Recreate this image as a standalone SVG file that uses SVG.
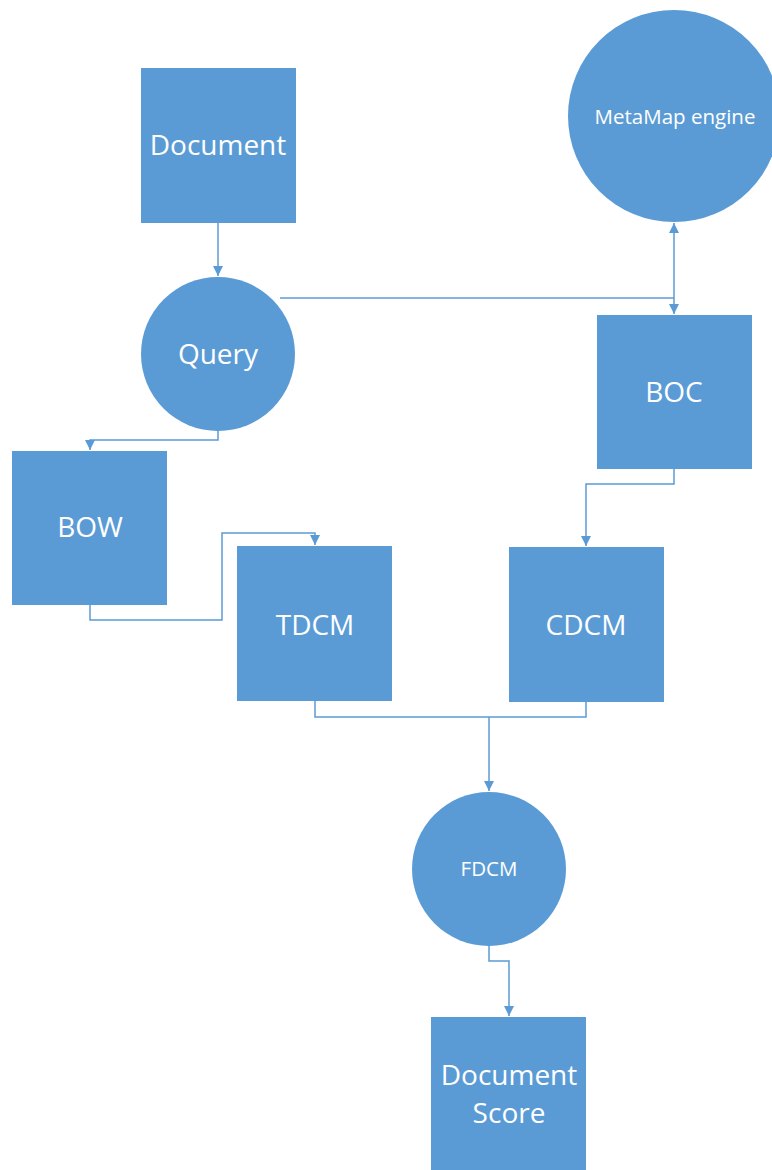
<svg xmlns="http://www.w3.org/2000/svg" width="772" height="1170" viewBox="0 0 772 1170">
  <style>
    .shape { fill: #5B9BD5; }
    .lbl { fill: #ffffff; font-family: "Open Sans", "Liberation Sans", sans-serif; text-anchor: middle; dominant-baseline: central; }
    .big { font-size: 28px; }
    .small { font-size: 20.5px; }
    .wire { fill: none; stroke: #5B9BD5; stroke-width: 1.5; }
  </style>
  <defs>
    <marker id="arrow" viewBox="0 0 10 10" refX="10" refY="5" markerWidth="11" markerHeight="10" markerUnits="userSpaceOnUse" orient="auto-start-reverse">
      <path d="M0,0 L10,5 L0,10 z" fill="#5B9BD5"/>
    </marker>
  </defs>
  <rect width="772" height="1170" fill="#ffffff"/>

  <g id="connectors">
    <!-- Document -> Query -->
    <path class="wire" d="M218,223 L218,276" marker-end="url(#arrow)"/>
    <!-- Query -> BOC, with MetaMap link -->
    <path class="wire" d="M280,298 L674,298"/>
    <path class="wire" d="M674,223 L674,314" marker-start="url(#arrow)" marker-end="url(#arrow)"/>
    <!-- Query -> BOW -->
    <path class="wire" d="M218,431 L218,440 L90,440 L90,450" marker-end="url(#arrow)"/>
    <!-- BOW -> TDCM -->
    <path class="wire" d="M90,605 L90,620 L222,620 L222,533 L315,533 L315,545" marker-end="url(#arrow)"/>
    <!-- BOC -> CDCM -->
    <path class="wire" d="M674,469 L674,484 L586,484 L586,546" marker-end="url(#arrow)"/>
    <!-- TDCM + CDCM -> FDCM -->
    <path class="wire" d="M315,701 L315,717 L586,717 L586,702"/>
    <path class="wire" d="M489,717 L489,791" marker-end="url(#arrow)"/>
    <!-- FDCM -> Document Score -->
    <path class="wire" d="M489,946 L489,961 L509,961 L509,1016" marker-end="url(#arrow)"/>
  </g>

  <g id="document">
    <rect class="shape" x="141" y="68" width="155" height="155"/>
    <text class="lbl big" x="218" y="144">Document</text>
  </g>
  <g id="metamap">
    <circle class="shape" cx="674" cy="116" r="106"/>
    <text class="lbl small" x="675" y="116">MetaMap engine</text>
  </g>
  <g id="query">
    <circle class="shape" cx="218" cy="354" r="77"/>
    <text class="lbl big" x="218" y="353">Query</text>
  </g>
  <g id="boc">
    <rect class="shape" x="597" y="315" width="155" height="154"/>
    <text class="lbl big" x="674" y="391">BOC</text>
  </g>
  <g id="bow">
    <rect class="shape" x="12" y="451" width="155" height="154"/>
    <text class="lbl big" x="90" y="526">BOW</text>
  </g>
  <g id="tdcm">
    <rect class="shape" x="237" y="546" width="155" height="155"/>
    <text class="lbl big" x="315" y="624">TDCM</text>
  </g>
  <g id="cdcm">
    <rect class="shape" x="509" y="547" width="155" height="155"/>
    <text class="lbl big" x="586" y="624">CDCM</text>
  </g>
  <g id="fdcm">
    <circle class="shape" cx="489" cy="869" r="77"/>
    <text class="lbl small" x="489" y="868">FDCM</text>
  </g>
  <g id="document-score">
    <rect class="shape" x="431" y="1017" width="155" height="160"/>
    <text class="lbl big" x="509" y="1074">Document</text>
    <text class="lbl big" x="509" y="1112">Score</text>
  </g>
</svg>
